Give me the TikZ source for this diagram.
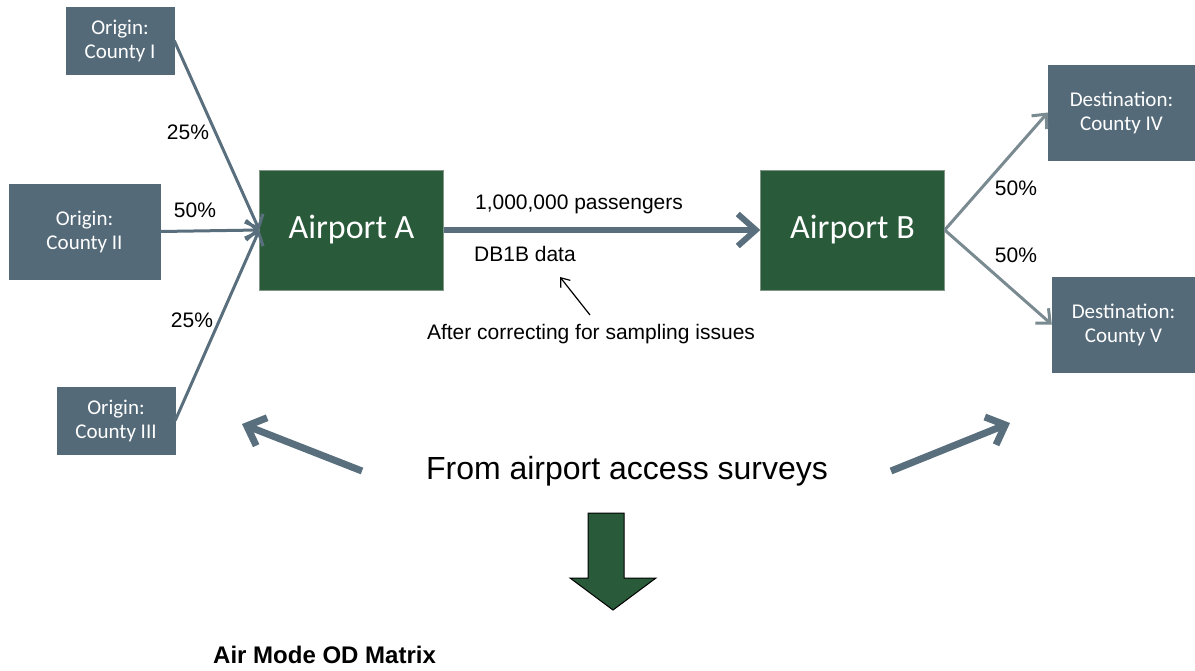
\documentclass[tikz,border=0pt]{standalone}
\usepackage{fontspec}
\setmainfont{Liberation Sans}
\newfontfamily\boxfont{Carlito}
\usetikzlibrary{arrows.meta}

\begin{document}
\begin{tikzpicture}[x=1pt,y=1pt,yscale=-1,xscale=1,
  county/.style={fill={rgb, 255:red, 84; green, 106; blue, 121 }, draw={rgb, 255:red, 84; green, 106; blue, 121 }, text=white, font=\boxfont\fontsize{21}{24}\selectfont, align=center, inner sep=0pt},
  airport/.style={fill={rgb, 255:red, 41; green, 90; blue, 58 }, draw={rgb, 255:red, 130; green, 150; blue, 135 }, text=white, font=\boxfont\fontsize{34}{40}\selectfont, minimum width=184, minimum height=120, inner sep=0pt},
  pct/.style={font=\fontsize{21}{25}\selectfont, inner sep=0pt},
  feed/.style={draw={rgb, 255:red, 89; green, 111; blue, 125 }, line width=3, -{Straight Barb[length=11,width=20]}},
  split/.style={draw={rgb, 255:red, 122; green, 138; blue, 145 }, line width=3, -{Straight Barb[length=11,width=20]}},
  flow/.style={draw={rgb, 255:red, 89; green, 111; blue, 125 }, line width=6, -{Straight Barb[length=18,width=32]}},
  survey/.style={draw={rgb, 255:red, 89; green, 111; blue, 125 }, line width=7, -{Straight Barb[length=16,width=30]}}
]
\useasboundingbox (0,0) rectangle (1195,670);

%Shape: Origin boxes
\node[county, minimum width=108, minimum height=67] (o1) at (120,40.5) {Origin:\\County I};
\node[county, minimum width=151, minimum height=95] (o2) at (84.5,231.5) {Origin:\\County II};
\node[county, minimum width=118, minimum height=67] (o3) at (116,420.5) {Origin:\\County III};
%Shape: Airports
\node[airport] (a) at (351.5,230) {Airport A};
\node[airport] (b) at (852.5,230) {Airport B};
%Shape: Destination boxes
\node[county, minimum width=147, minimum height=95] (d4) at (1121.5,112.5) {Destination:\\County IV};
\node[county, minimum width=143, minimum height=95] (d5) at (1123.5,324.5) {Destination:\\County V};

%Straight Lines
\draw[feed] (o1.east) -- (a.west);
\draw[feed] (o2.east) -- (a.west);
\draw[feed] (o3.east) -- (a.west);
\draw[flow] (a.east) -- (b.west);
\draw[split] (b.east) -- (d4.west);
\draw[split] (b.east) -- (d5.west);

% Text Node
\node[pct] (p1) at (188,132) {25\%};
\node[pct] (p2) at (195,210) {50\%};
\node[pct] (p3) at (192,320) {25\%};
\node[pct] (p4) at (1016,188) {50\%};
\node[pct] (p5) at (1016,255) {50\%};
% Text Node
\node[pct] (pax) at (579,204) {1,000,000 passengers};
\node[pct] (db) at (525,254) {DB1B data};
\node[pct] (fix) at (591,334) {After correcting for sampling issues};
\coordinate (fixtail) at (590,315);
\coordinate (fixtip) at (560,277);
\draw[line width=1.2, -{Straight Barb[length=8,width=12]}] (fixtail) -- (fixtip);

% Text Node
\node[font=\fontsize{32}{38}\selectfont, inner sep=0pt] (src) at (627,471) {From airport access surveys};
\coordinate (ltail) at (362,471);
\coordinate (ltip) at (242,424);
\coordinate (rtail) at (891,471);
\coordinate (rtip) at (1010,423);
\draw[survey] (ltail) -- (ltip);
\draw[survey] (rtail) -- (rtip);

%Shape: Down Arrow
\draw[fill={rgb, 255:red, 41; green, 90; blue, 58 }, draw=black, line width=1] (588,513) -- (624,513) -- (624,578) -- (656,578) -- (613,610) -- (570,578) -- (588,578) -- cycle;

% Text Node
\node[font=\bfseries\fontsize{24}{28}\selectfont, anchor=west, inner sep=0pt] (om) at (213,655) {Air Mode OD Matrix};

\end{tikzpicture}
\end{document}
